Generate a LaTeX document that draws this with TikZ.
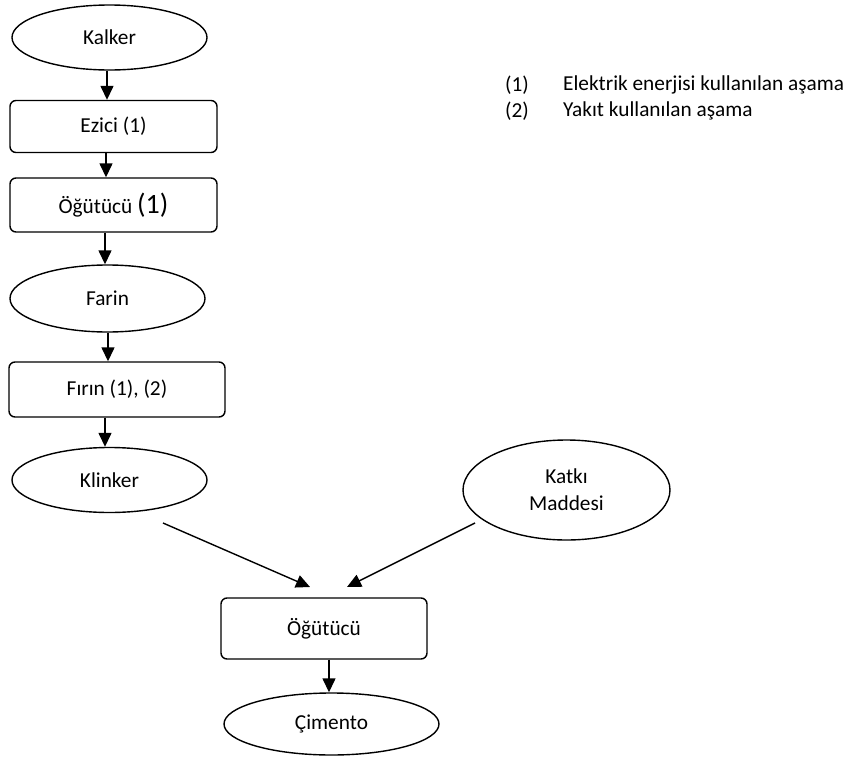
\documentclass[tikz,border=0pt]{standalone}
\usepackage{fontspec}
\setmainfont{Carlito}
\usetikzlibrary{shapes.geometric,arrows.meta}
\begin{document}
\begin{tikzpicture}[x=1pt,y=-1pt,
  every node/.style={font=\fontsize{21.3}{27}\selectfont},
  oval/.style={draw,ellipse,line width=1.4pt,inner sep=0pt,minimum width=#1},
  procbox/.style={draw,rectangle,rounded corners=6pt,line width=1.4pt,inner sep=0pt},
  arr/.style={line width=1.4pt,-{Triangle[length=14pt,width=13pt]}},
  legend/.style={anchor=west,inner sep=0pt}]
\useasboundingbox (0,0) rectangle (847,758);
\node[oval=195pt,minimum height=65pt] (kalker) at (109.5,37.5) {Kalker};
\node[procbox,minimum width=207pt,minimum height=52pt] (ezici) at (113.5,126.5) {Ezici (1)};
\node[procbox,minimum width=207pt,minimum height=54pt] (ogut1) at (113.5,205) {Öğütücü {\fontsize{28}{30}\selectfont(1)}};
\node[oval=195pt,minimum height=67pt] (farin) at (107.5,298.5) {Farin};
\node[procbox,minimum width=216pt,minimum height=55pt] (firin) at (117,389.5) {Fırın (1), (2)};
\node[oval=195pt,minimum height=65pt] (klinker) at (109.5,480) {Klinker};
\node[oval=207pt,minimum height=100pt,align=center] (katki) at (566.5,490) {Katkı\\Maddesi};
\node[procbox,minimum width=206pt,minimum height=61pt] (ogut2) at (324,628.5) {Öğütücü};
\node[oval=215pt,minimum height=62pt] (cimento) at (331.5,724) {Çimento};
\node[legend] (l1n) at (505,85) {(1)};
\node[legend] (l1t) at (563,85) {Elektrik enerjisi kullanılan aşama};
\node[legend] (l2n) at (505,111) {(2)};
\node[legend] (l2t) at (563,111) {Yakıt kullanılan aşama};
\coordinate (klA) at (163,523);
\coordinate (klB) at (310,587);
\coordinate (kaA) at (475,523);
\coordinate (kaB) at (347,587);
\draw[arr] ([xshift=-2.5pt]kalker.south) -- ([xshift=-2.5pt]kalker.south |- ezici.north);
\draw[arr] ([xshift=-7.5pt]ezici.south) -- ([xshift=-7.5pt]ezici.south |- ogut1.north);
\draw[arr] ([xshift=-8.5pt]ogut1.south) -- ([xshift=-8.5pt]ogut1.south |- farin.north);
\draw[arr] ([xshift=0.5pt]farin.south) -- ([xshift=0.5pt]farin.south |- firin.north);
\draw[arr] ([xshift=-12pt]firin.south) -- ([xshift=-12pt]firin.south |- klinker.north);
\draw[arr] (klA) -- (klB);
\draw[arr] (kaA) -- (kaB);
\draw[arr] ([xshift=5pt]ogut2.south) -- ([xshift=5pt]ogut2.south |- cimento.north);
\end{tikzpicture}
\end{document}
